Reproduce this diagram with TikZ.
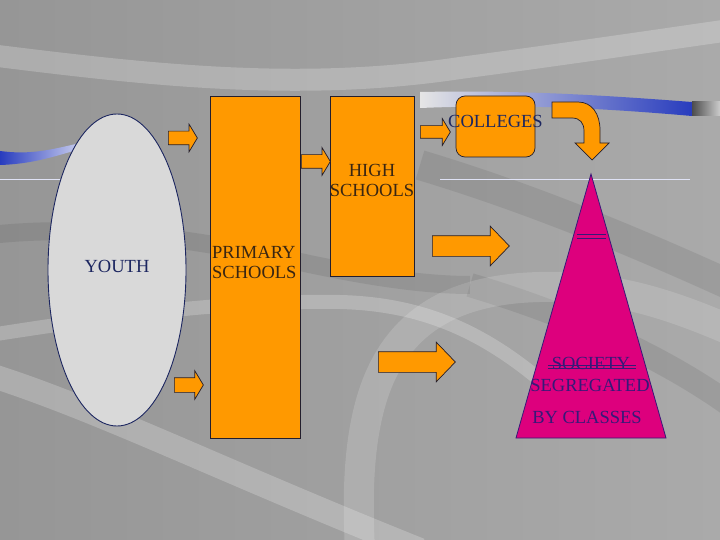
\documentclass[tikz,border=0pt]{standalone}
\usepackage{fontspec}
\setmainfont{Liberation Serif}
\usetikzlibrary{positioning,shapes.geometric,shapes.arrows}

\definecolor{boxorange}{RGB}{255,153,0}
\definecolor{societypink}{RGB}{221,0,125}
\definecolor{youthgrey}{RGB}{217,217,217}
\definecolor{navytext}{RGB}{28,38,96}
\definecolor{browntext}{RGB}{58,38,18}
\definecolor{purpletext}{RGB}{55,25,120}
\definecolor{edgedark}{RGB}{35,30,45}
\definecolor{streakblue}{RGB}{40,60,190}
\definecolor{bgleft}{RGB}{150,150,150}
\definecolor{bgmid}{RGB}{186,186,186}
\definecolor{bgright}{RGB}{170,170,170}

\begin{document}
\begin{tikzpicture}[x=1pt, y=-1pt,
    every node/.style={font=\fontsize{18.5}{20}\selectfont},
    schoolbox/.style={draw=edgedark, fill=boxorange, line width=0.7pt, inner sep=0pt},
    smallarrow/.style={single arrow, draw=edgedark, fill=boxorange, line width=0.7pt,
      inner xsep=0pt, inner ysep=6.5pt, single arrow head extend=7pt,
      single arrow tip angle=118, anchor=tail},
    bigarrow/.style={single arrow, draw=edgedark, fill=boxorange, line width=0.7pt,
      inner xsep=0pt, inner ysep=10pt, single arrow head extend=9.5pt,
      single arrow tip angle=92, anchor=tail},
    lightband/.style={white, opacity=0.22},
    darkband/.style={black, opacity=0.08}]

  % background
  \useasboundingbox (0,0) rectangle (720,540);
  \shade[left color=bgleft, middle color=bgmid, right color=bgright] (0,0) rectangle (720,540);
  \draw[lightband, line width=22pt] (-10,55) .. controls (150,75) and (300,92) .. (460,68) .. controls (580,52) and (660,40) .. (730,30);
  \draw[darkband, line width=30pt] (420,165) .. controls (520,195) and (620,235) .. (730,285);
  \draw[darkband, line width=24pt] (470,285) .. controls (570,315) and (660,355) .. (730,405);
  \draw[lightband, line width=24pt] (-10,375) .. controls (100,410) and (220,470) .. (420,550);
  \draw[lightband, line width=14pt] (-10,335) .. controls (100,318) and (220,300) .. (340,302) .. controls (420,304) and (480,330) .. (540,380);
  \draw[lightband, opacity=0.15, line width=30pt] (360,550) .. controls (352,400) and (380,300) .. (520,288) .. controls (600,282) and (660,300) .. (730,330);
  \draw[darkband, line width=18pt] (-10,235) .. controls (80,225) and (180,235) .. (300,262) .. controls (360,275) and (420,285) .. (470,285);
  \shade[left color=streakblue, right color=streakblue!25!white] (0,151) .. controls (30,155) and (50,150) .. (80,143) -- (80,149) .. controls (50,158) and (30,164) .. (0,165) -- cycle;
  \shade[left color=white!80!gray, right color=streakblue] (420,92) .. controls (520,90) and (600,95) .. (692,102) -- (692,116) .. controls (600,108) and (520,104) .. (420,108) -- cycle;
  \shade[left color=gray!60!black, right color=gray!40] (692,102) rectangle (720,116);
  \draw[white!85!streakblue, line width=0.8pt] (0,179) -- (75,179);
  \draw[white!85!streakblue, line width=0.8pt] (440,179) -- (690,179);

  % youth and schools
  \node[ellipse, draw=navytext, fill=youthgrey, line width=0.9pt, minimum width=138pt, minimum height=312pt, inner sep=0pt, text=navytext] (youth) at (117,270) {\raisebox{8pt}{YOUTH}};
  \node[schoolbox, minimum width=90pt, minimum height=342pt] (primary) at (255,267) {};
  \node[text=browntext, align=left, anchor=west, inner sep=0pt] (primarytext) at (212,262) {PRIMARY\\SCHOOLS};
  \node[schoolbox, minimum width=84pt, minimum height=180pt] (high) at (372,186) {};
  \node[text=browntext, align=center, inner sep=0pt] (hightext) at (372,180) {HIGH\\SCHOOLS};
  \node[schoolbox, rounded corners=9pt, minimum width=79pt, minimum height=61pt] (colleges) at (495.5,126.5) {};
  \node[text=navytext, inner sep=0pt] (collegestext) at (495.5,121) {COLLEGES};

  % society
  \coordinate (apex) at (591,174);
  \coordinate (baseleft) at (516,438);
  \coordinate (baseright) at (666,438);
  \draw[fill=societypink, draw=purpletext, line width=0.8pt] (apex) -- (baseright) -- (baseleft) -- cycle;
  \draw[purpletext, line width=0.6pt] (577,234) -- (606,234) (577,238) -- (606,238);
  \node[text=purpletext, inner sep=0pt] (society) at (591,363) {SOCIETY};
  \node[text=purpletext, inner sep=0pt] (segregated) at (590,385) {SEGREGATED};
  \node[text=purpletext, inner sep=0pt] (classes) at (587,417) {BY CLASSES};
  \draw[purpletext, line width=0.6pt] ([xshift=-4pt,yshift=-2pt]society.west) -- ([xshift=6pt,yshift=-2pt]society.east);
  \draw[purpletext, line width=0.6pt] ([xshift=-4pt,yshift=-5pt]society.west) -- ([xshift=6pt,yshift=-5pt]society.east);

  % arrows
  \node[smallarrow, minimum height=29pt] (toprimary) at (168,138) {};
  \node[smallarrow, minimum height=29pt, inner ysep=7pt] (toprimarylow) at (174,385) {};
  \node[smallarrow, minimum height=29pt] (tohigh) at (301,161.5) {};
  \node[smallarrow, minimum height=30pt, inner ysep=6pt] (tocolleges) at (420,132) {};
  \node[bigarrow, minimum height=77pt] (fromhigh) at (432,246) {};
  \node[bigarrow, minimum height=77pt] (fromprimary) at (378,362) {};
  \draw[fill=boxorange, draw=edgedark, line width=0.7pt] (552,102) -- (578,102) .. controls (592,102) and (600,114) .. (600,130) -- (600,143) -- (609,143) -- (592,160) -- (575,143) -- (584,143) -- (584,131) .. controls (584,123) and (580,118) .. (572,118) -- (552,118) -- cycle;
\end{tikzpicture}
\end{document}
